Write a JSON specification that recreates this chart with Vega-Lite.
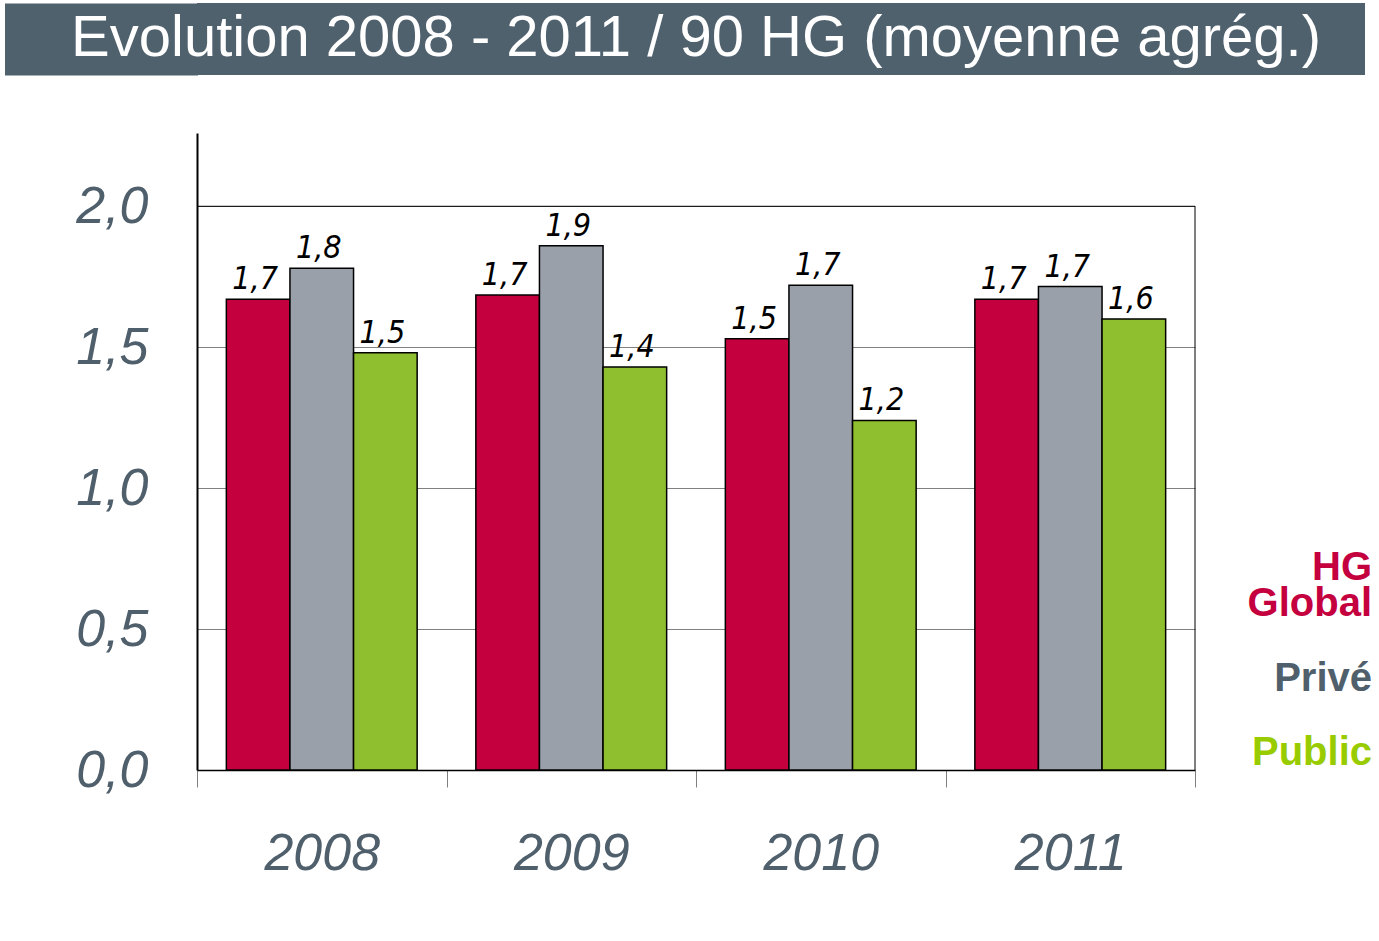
{
  "$schema": "https://vega.github.io/schema/vega-lite/v6.json",
  "padding": {"left": 5, "top": 3, "right": 0, "bottom": 0},
  "background": "white",
  "spacing": 58,
  "resolve": {"legend": {"color": "independent"}},
  "config": {
    "locale": {"number": {"decimal": ",", "thousands": " ", "grouping": [3], "currency": ["", " €"]}},
    "view": {"stroke": null},
    "style": {"guide-label": {"lineHeight": 36}}
  },
  "vconcat": [
    {
      "width": 1168,
      "height": 72,
      "view": {"fill": "#50616E", "stroke": null},
      "data": {"values": [{"titre": "Evolution 2008 - 2011 / 90 HG (moyenne agrég.)"}]},
      "mark": {"type": "text", "font": "Liberation Sans", "fontSize": 58, "color": "white", "baseline": "middle", "align": "center", "dx": -85},
      "encoding": {
        "text": {"field": "titre", "type": "nominal"},
        "y": {
          "field": "titre", "type": "nominal",
          "axis": {"title": null, "labels": false, "ticks": false, "domainWidth": 193, "domainColor": "#50616E", "domainCap": "butt", "offset": 96}
        }
      }
    },
    {
      "width": 998,
      "height": 637,
      "data": {"values": [
        {"annee": "2008", "serie": "HG Global", "valeur": 1.67},
        {"annee": "2008", "serie": "Privé", "valeur": 1.78},
        {"annee": "2008", "serie": "Public", "valeur": 1.48},
        {"annee": "2009", "serie": "HG Global", "valeur": 1.685},
        {"annee": "2009", "serie": "Privé", "valeur": 1.86},
        {"annee": "2009", "serie": "Public", "valeur": 1.43},
        {"annee": "2010", "serie": "HG Global", "valeur": 1.53},
        {"annee": "2010", "serie": "Privé", "valeur": 1.72},
        {"annee": "2010", "serie": "Public", "valeur": 1.24},
        {"annee": "2011", "serie": "HG Global", "valeur": 1.67},
        {"annee": "2011", "serie": "Privé", "valeur": 1.715},
        {"annee": "2011", "serie": "Public", "valeur": 1.6}
      ]},
      "layer": [
        {
          "mark": {"type": "bar", "stroke": "black", "strokeWidth": 1.5},
          "encoding": {
            "x": {
              "field": "annee", "type": "nominal",
              "scale": {"paddingInner": 0, "paddingOuter": 0},
              "axis": {
                "title": null, "labelAngle": 0, "tickBand": "extent", "tickSize": 17,
                "tickColor": "#808080", "domainColor": "black", "domainWidth": 1.5,
                "labelFont": "Liberation Sans", "labelFontStyle": "italic", "labelFontSize": 52,
                "labelColor": "#4F5F6B", "labelPadding": 41
              }
            },
            "xOffset": {"field": "serie", "type": "nominal", "sort": ["HG Global", "Privé", "Public"], "scale": {"paddingInner": 0, "paddingOuter": 0.4615}},
            "y": {
              "field": "valeur", "type": "quantitative",
              "scale": {"domain": [0, 2.26], "nice": false},
              "axis": {
                "title": null, "values": [0, 0.5, 1, 1.5, 2], "format": ".1f", "ticks": false,
                "labelPadding": 49, "labelFont": "Liberation Sans", "labelFontStyle": "italic",
                "labelFontSize": 52, "labelColor": "#4F5F6B", "domainColor": "black", "domainWidth": 2,
                "grid": true, "gridColor": "#808080", "gridWidth": 1, "minExtent": 192, "maxExtent": 192
              }
            },
            "color": {
              "field": "serie", "type": "nominal",
              "scale": {"domain": ["HG Global", "Privé", "Public"], "range": ["#C4003F", "#9AA0AA", "#8FBF2F"]},
              "legend": {
                "orient": "none", "legendX": 1135, "legendY": 415, "title": null,
                "symbolSize": 0, "symbolOpacity": 0, "symbolStrokeWidth": 0,
                "labelFont": "Liberation Sans", "labelFontWeight": "bold", "labelFontSize": 40,
                "labelAlign": "right", "labelOffset": 0, "padding": 0, "rowPadding": 34.5, "labelLimit": 400,
                "labelExpr": "datum.label == 'HG Global' ? ['HG', 'Global'] : datum.label",
                "labelColor": {"expr": "datum.value == 'HG Global' ? '#C4003F' : datum.value == 'Privé' ? '#4F5F6B' : '#99CC00'"}
              }
            }
          }
        },
        {
          "mark": {"type": "text", "font": "Liberation Sans Narrow, DejaVu Sans Condensed, Liberation Sans", "fontStyle": "italic", "fontSize": 32, "color": "black", "baseline": "alphabetic", "dy": -10, "dx": -3},
          "encoding": {
            "x": {"field": "annee", "type": "nominal"},
            "xOffset": {"field": "serie", "type": "nominal", "sort": ["HG Global", "Privé", "Public"]},
            "y": {"field": "valeur", "type": "quantitative"},
            "text": {"field": "valeur", "type": "quantitative", "format": ".1f"}
          }
        },
        {
          "data": {"values": [{}]},
          "mark": {"type": "rule", "color": "black", "strokeWidth": 1},
          "encoding": {"y": {"datum": 2}}
        },
        {
          "data": {"values": [{}]},
          "mark": {"type": "rule", "color": "black", "strokeWidth": 1},
          "encoding": {"x": {"value": "width"}, "y": {"datum": 0}, "y2": {"datum": 2}}
        }
      ]
    }
  ]
}
